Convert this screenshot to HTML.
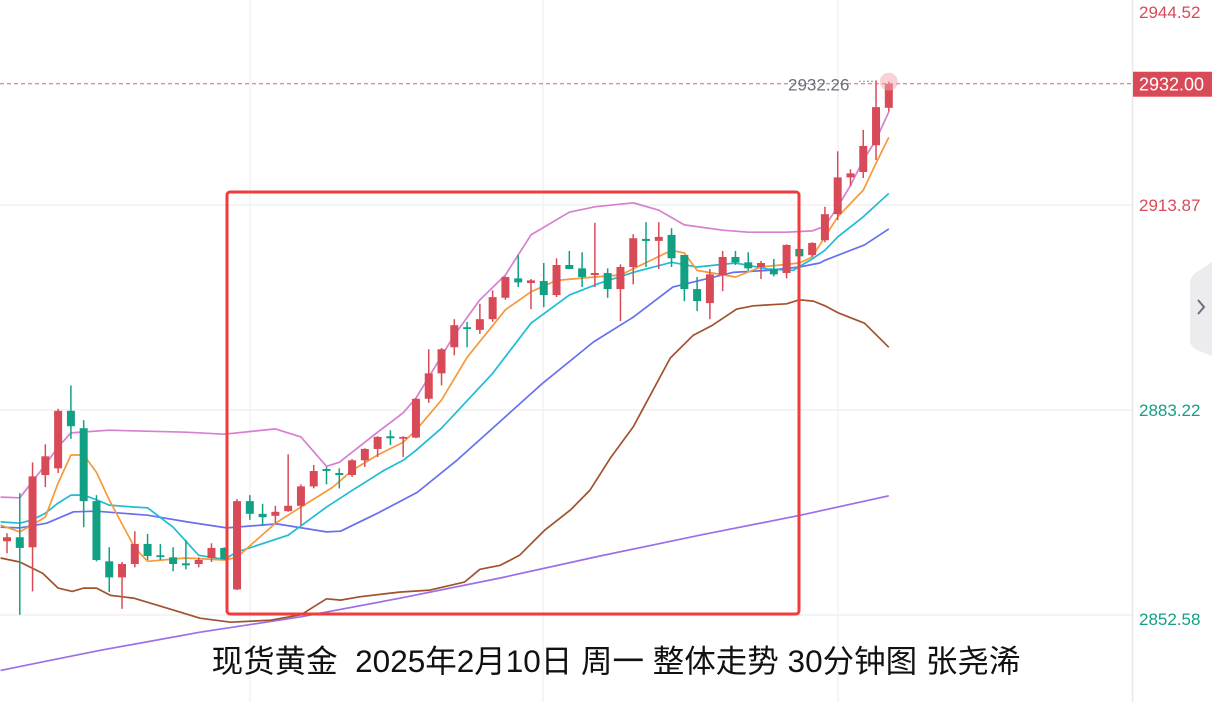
<!DOCTYPE html>
<html><head><meta charset="utf-8"><style>
html,body{margin:0;padding:0;background:#fff;width:1212px;height:702px;overflow:hidden}
svg{display:block}
text{font-family:"Liberation Sans","Noto Sans CJK SC",sans-serif}
</style></head><body>
<svg id="chart" width="1212" height="702" viewBox="0 0 1212 702" xmlns="http://www.w3.org/2000/svg">
<g id="grid"></g>
<g id="lines"></g>
<g id="candles"></g>
<g id="overlay"></g>
<g id="axis"></g>
</svg>
<script>
const opens =[2863.6,2864.2,2862.7,2873.5,2874.5,2883.1,2880.5,2869.6,2860.6,2858.2,2860.2,2863.2,2861.5,2861.2,2860.3,2860.2,2861.1,2862.6,2856.4,2869.6,2867.7,2867.4,2868.1,2868.9,2871.8,2874.4,2873.8,2873.5,2875.7,2877.4,2879.3,2879.0,2879.1,2884.9,2888.7,2892.6,2895.6,2895.2,2896.8,2900.0,2902.9,2902.2,2902.5,2900.4,2904.9,2904.4,2903.4,2903.7,2901.3,2904.6,2908.8,2908.5,2909.4,2906.4,2901.3,2899.2,2903.4,2906.1,2905.3,2904.6,2904.3,2903.7,2907.3,2906.4,2908.6,2912.5,2918.0,2918.8,2922.8,2928.4];
const closes=[2864.2,2862.6,2873.3,2876.3,2883.1,2880.8,2869.6,2860.8,2858.2,2860.2,2863.2,2861.4,2861.4,2860.2,2860.0,2860.8,2862.6,2860.9,2869.6,2867.7,2867.2,2868.0,2868.9,2871.8,2874.1,2874.1,2873.5,2875.7,2877.4,2879.2,2879.0,2879.2,2884.9,2888.7,2892.3,2895.9,2895.5,2896.8,2900.1,2903.1,2902.3,2902.6,2900.4,2904.9,2904.3,2903.1,2903.7,2901.3,2904.6,2908.9,2908.5,2909.1,2905.9,2901.3,2899.5,2903.5,2906.1,2905.3,2904.4,2905.2,2903.5,2907.9,2906.2,2908.2,2912.5,2918.0,2918.6,2922.7,2928.5,2932.0];
const highs =[2864.8,2870.8,2875.4,2878.1,2883.4,2886.9,2881.7,2870.5,2862.7,2860.5,2865.1,2864.7,2863.2,2862.7,2863.8,2861.2,2863.3,2862.7,2869.9,2870.5,2869.2,2868.9,2876.6,2872.1,2875.0,2874.7,2874.5,2875.9,2877.5,2879.3,2880.2,2879.3,2885.0,2892.3,2892.5,2896.8,2896.4,2899.1,2901.1,2903.2,2906.4,2902.8,2905.2,2905.9,2907.0,2906.8,2911.2,2904.4,2905.0,2909.5,2911.3,2911.3,2910.4,2906.4,2903.1,2904.3,2907.0,2907.0,2906.8,2905.5,2905.8,2908.0,2907.3,2908.3,2913.6,2921.9,2919.2,2925.1,2932.5,2932.3];
const lows  =[2861.8,2852.6,2856.1,2871.7,2873.8,2878.9,2865.7,2860.6,2856.0,2853.5,2859.7,2860.8,2860.8,2859.1,2859.4,2859.7,2860.5,2860.8,2856.3,2866.8,2866.0,2866.3,2868.0,2866.0,2871.5,2872.1,2871.5,2873.2,2874.7,2876.2,2878.0,2876.2,2879.0,2884.3,2886.9,2891.4,2892.6,2894.6,2896.4,2899.7,2901.6,2898.3,2898.6,2900.1,2904.3,2901.6,2901.6,2900.0,2896.5,2902.0,2904.6,2904.3,2904.6,2899.5,2898.0,2896.8,2901.0,2904.9,2904.1,2902.8,2903.2,2902.9,2906.1,2906.1,2908.3,2911.6,2916.7,2917.9,2920.6,2927.8];

const bollUpIdx=[-0.5,1,3,4,5,8,14,17,21,23,25,26,29,31,32,35,37,39,41,44,46,49,51,53,56,58,61,63,64,65,66,67,68,69];
const bollUpVal=[2870.2,2870.1,2875.0,2877.7,2879.8,2880.2,2879.9,2879.6,2880.4,2879.2,2874.8,2875.4,2879.9,2882.8,2885.0,2894.4,2899.7,2903.4,2909.4,2912.8,2913.6,2914.2,2913.1,2910.9,2910.1,2909.8,2909.8,2910.0,2910.7,2913.6,2916.8,2920.6,2923.6,2927.8];
const ma5Idx=[-0.5,1,3,4,5,6,7,8,10,11,14,17,18,21,23,25.5,27,29,31,32,34,36,39,41,43,46,48,52,53,54,57,59,62,63,64,65,67,68,69];
const ma5Val=[2866.0,2865.0,2867.2,2872.3,2876.5,2876.5,2873.9,2869.8,2862.6,2860.6,2861.1,2860.8,2861.2,2866.3,2868.7,2871.7,2874.2,2876.5,2878.4,2880.2,2884.7,2891.1,2898.2,2900.9,2902.6,2903.1,2903.4,2907.1,2906.7,2904.1,2903.1,2904.6,2905.2,2906.1,2909.1,2912.1,2916.1,2920.1,2924.0];
const ma10Idx=[-0.5,1,2,3,4,5,6,7,8,10,11,13,15,17,18,22,25,27,29.5,31,32,34,38,41,44,46.4,49,52,54,57,59.5,61.5,63,64,65,67,69];
const ma10Val=[2866.5,2866.3,2866.8,2867.8,2869.3,2870.5,2870.5,2869.8,2869.0,2868.7,2868.6,2865.7,2861.5,2860.9,2862.0,2864.5,2868.7,2871.2,2874.2,2875.7,2877.2,2880.5,2888.7,2896.2,2900.4,2902.2,2903.8,2905.3,2904.6,2905.2,2904.3,2904.1,2905.8,2907.1,2909.1,2912.1,2915.6];
const ma20Idx=[-0.5,1,3.1,5.2,7,11,14.1,17.2,21.1,25,26.1,29,32.1,35.2,38,41.9,45.9,49,52.1,54.2,56.8,59.5,62,63.6,64,67.1,69];
const ma20Val=[2865.7,2865.6,2866.3,2868.0,2868.1,2867.5,2866.5,2865.6,2866.2,2865.0,2865.1,2867.8,2870.9,2875.7,2880.5,2887.2,2893.4,2897.1,2901.6,2902.6,2903.8,2904.1,2904.6,2905.2,2905.6,2907.9,2910.3];
const bollLowIdx=[-0.5,1,2.8,4,5.1,6,7,8.1,9.9,12.5,15.1,17.5,20.6,23,25,26.1,27.6,30.7,33.1,35.8,37,38.6,40.1,42.1,44.1,45.6,47.2,49,51.9,53.7,55.2,57.1,58.4,61,62,63.1,64,65.1,67.1,69];
const bollLowVal=[2861.1,2860.5,2858.8,2856.6,2856.1,2856.6,2856.6,2855.5,2855.1,2853.6,2852.1,2851.5,2851.8,2852.6,2855.0,2854.8,2855.3,2856.0,2856.3,2857.5,2859.4,2860.0,2861.5,2865.3,2868.3,2871.2,2876.0,2880.7,2891.0,2894.4,2895.9,2898.3,2898.8,2899.1,2899.7,2899.5,2898.8,2897.7,2896.2,2892.6];
const maLongIdx=[-0.5,3.4,7.3,15.1,23,30.8,38.6,46.4,54.2,62.1,69];
const maLongVal=[2844.3,2845.8,2847.3,2850.0,2852.3,2855.1,2858.1,2861.4,2864.5,2867.5,2870.4];

const axisTicks=[2944.52,2913.87,2883.22,2852.58];
const axisTickY=[12,205,410,619];
const lastPrice=2932.00;
const hiLabel="2932.26";

const NS="http://www.w3.org/2000/svg";
function yOf(p){return 205-(p-2913.87)/0.1495;}
function xOf(i){return 7+12.78*i;}
function mk(tag,attrs,parent){const e=document.createElementNS(NS,tag);for(const k in attrs)e.setAttribute(k,attrs[k]);parent.appendChild(e);return e;}

const grid=document.getElementById('grid');
[205,410,615].forEach(y=>{const l=mk('line',{x1:0,x2:1132,y1:y,y2:y,stroke:'#f0f0f0','stroke-width':1.5},grid);

});
[250,543,838].forEach(x=>{const l=mk('line',{x1:x,x2:x,y1:0,y2:702,stroke:'#f2f2f2','stroke-width':1.5},grid);

});

const lines=document.getElementById('lines');
function drawLine(idx,val,color,name){
  const d=idx.map((i,k)=>(k?'L':'M')+xOf(i).toFixed(1)+' '+yOf(val[k]).toFixed(1)).join(' ');
  const p=mk('path',{d:d,fill:'none',stroke:color,'stroke-width':1.7,'stroke-linejoin':'round'},lines);
  
  
}
drawLine(maLongIdx,maLongVal,'#9b6fe8','ma-long-line');
drawLine(bollLowIdx,bollLowVal,'#a0522d','boll-lower-line');
drawLine(ma20Idx,ma20Val,'#6670f0','ma20-line');
drawLine(ma10Idx,ma10Val,'#1fbcd6','ma10-line');
drawLine(bollUpIdx,bollUpVal,'#d77fd0','boll-upper-line');
drawLine(ma5Idx,ma5Val,'#f7993a','ma5-line');

const cg=document.getElementById('candles');
opens.forEach((o,i)=>{
  const c=closes[i],up=c>=o,col=up?'#d94a58':'#12a085';
  const x=xOf(i);
  const g=mk('g',{},cg);
  
  
  mk('line',{x1:x,x2:x,y1:yOf(highs[i]),y2:yOf(lows[i]),stroke:col,'stroke-width':1.5},g);
  const top=yOf(Math.max(o,c)),bot=yOf(Math.min(o,c));
  mk('rect',{x:x-4,y:top,width:8,height:Math.max(bot-top,1.8),fill:col},g);
});

const ov=document.getElementById('overlay');
const ly=yOf(lastPrice);
let e=mk('line',{x1:0,x2:1132,y1:ly,y2:ly,stroke:'#e06070','stroke-width':1,'stroke-dasharray':'4 3'},ov);


e=mk('text',{x:788,y:ly+7,'font-size':17,fill:'#6b6f7a'},ov);e.textContent=hiLabel;


e=mk('text',{x:858,y:ly+1,'font-size':12,fill:'#6b6f7a'},ov);e.textContent='····';
e=mk('circle',{cx:xOf(69),cy:ly-2,r:9,fill:'#f3a5ad',opacity:0.5},ov);


e=mk('rect',{x:227,y:192,width:572,height:422,rx:3,fill:'none',stroke:'#f23b3b','stroke-width':3},ov);


e=mk('text',{x:616,y:672,'font-size':31.5,fill:'#111','text-anchor':'middle',style:'white-space:pre'},ov);
e.textContent='现货黄金  2025年2月10日 周一 整体走势 30分钟图 张尧浠';



const ax=document.getElementById('axis');
e=mk('line',{x1:1132.5,x2:1132.5,y1:0,y2:702,stroke:'#e8e8e8','stroke-width':1.5},ax);


axisTicks.forEach((t,k)=>{
  const col=t>lastPrice-20?'#d94a58':'#12a085';
  const tx=mk('text',{x:1139,y:axisTickY[k]+6,'font-size':17,fill:col},ax);
  tx.textContent=t.toFixed(2);
  
  
});
e=mk('rect',{x:1133,y:ly-12,width:79,height:25,fill:'#d94a58'},ax);


e=mk('text',{x:1139,y:ly+7,'font-size':18,fill:'#fff'},ax);e.textContent=lastPrice.toFixed(2);
e=mk('path',{d:'M1212 262 L1197 272 Q1190 276 1190 284 L1190 340 Q1190 346 1197 350 L1212 356 Z',fill:'#ececef'},ax);


e=mk('path',{d:'M1198 300 L1204 307 L1198 314',fill:'none',stroke:'#6b6f7a','stroke-width':2},ax);


</script>
</body></html>
